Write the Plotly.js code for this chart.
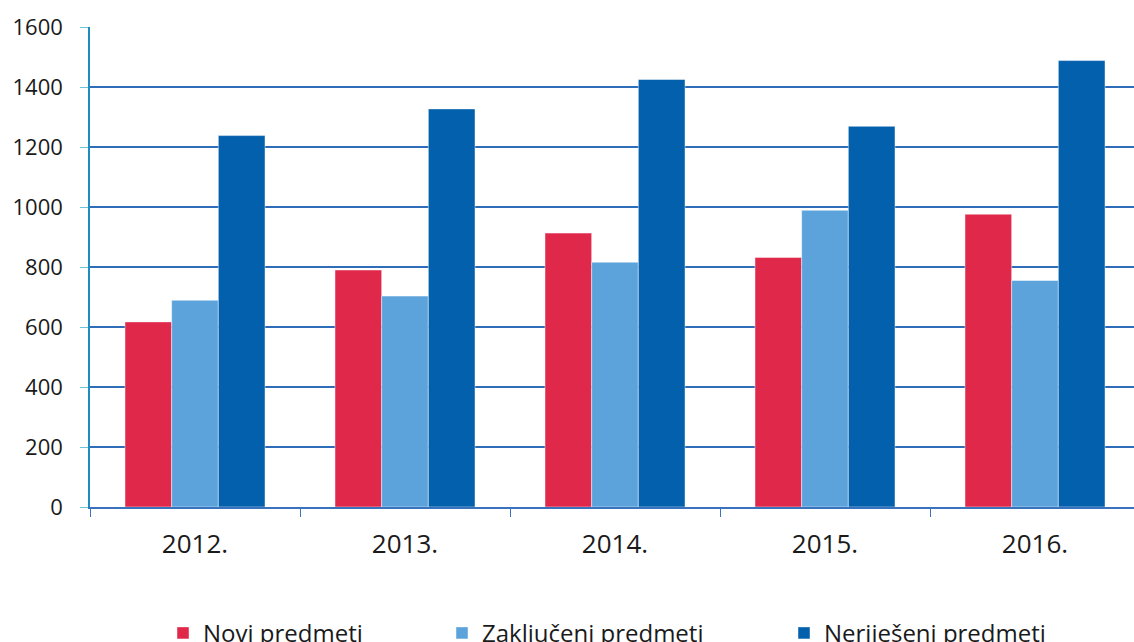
<!DOCTYPE html>
<html>
<head>
<meta charset="utf-8">
<script src="https://cdn.plot.ly/plotly-3.0.1.min.js"></script>
<style>
html,body{margin:0;padding:0;background:#fff;}
#chart{width:1134px;height:642px;}
</style>
</head>
<body>
<div id="chart"></div>
<script>
const categories = ["2012.", "2013.", "2014.", "2015.", "2016."];
const seriesNames = ["Novi predmeti", "Zaključeni predmeti", "Neriješeni predmeti"];
const noviPredmeti = [617, 790, 913, 832, 976];
const zakljuceniPredmeti = [689, 703, 816, 989, 755];
const nerijeseniPredmeti = [1238, 1327, 1425, 1269, 1488];
const yTickVals = [0, 200, 400, 600, 800, 1000, 1200, 1400, 1600];

const colors = ["#E0284B", "#5DA3DB", "#0360AC"];
const values = [noviPredmeti, zakljuceniPredmeti, nerijeseniPredmeti];
const legendIds = ["legend", "legend2", "legend3"];

const traces = values.map((v, i) => ({
  type: "bar",
  name: seriesNames[i],
  x: categories,
  y: v,
  legend: legendIds[i],
  marker: { color: colors[i], line: { color: "rgba(255,255,255,0.45)", width: 1 } },
  hoverinfo: "x+y+name"
}));

const font = { family: "'Open Sans', 'Noto Sans', sans-serif", color: "#1a1a1a" };
const legendText = [205, 484, 826];
function mkLegend(i) {
  return {
    xref: "container", yref: "paper",
    x: (legendText[i] - 42) / 1134, xanchor: "left",
    y: -0.31, yanchor: "bottom",
    orientation: "h",
    bgcolor: "rgba(0,0,0,0)",
    font: Object.assign({}, font, { size: 24 })
  };
}

const layout = {
  width: 1134, height: 642,
  paper_bgcolor: "#fff", plot_bgcolor: "#fff",
  margin: { l: 90, r: 0, t: 27, b: 135, pad: 0, autoexpand: false },
  barmode: "group",
  bargap: 1/3,
  bargroupgap: 0,
  font: font,
  showlegend: true,
  legend: mkLegend(0),
  legend2: mkLegend(1),
  legend3: mkLegend(2),
  xaxis: {
    type: "category",
    range: [-0.5, 4.4714],
    tickson: "boundaries",
    ticks: "outside",
    ticklen: 8,
    tickcolor: "#3A73BD",
    tickwidth: 1,
    showgrid: false,
    showline: true,
    linecolor: "#3A73BD",
    linewidth: 1.5,
    zeroline: false,
    tickfont: Object.assign({}, font, { size: 26 }),
    ticklabelstandoff: 13,
    fixedrange: true
  },
  yaxis: {
    range: [0, 1600],
    tickmode: "array",
    tickvals: yTickVals,
    ticktext: yTickVals.map(String),
    ticks: "outside",
    ticklen: 8,
    tickcolor: "#6EC3D6",
    showgrid: true,
    gridcolor: "#2F6DB8",
    gridwidth: 1.5,
    showline: true,
    linecolor: "#1C8DBE",
    linewidth: 1.5,
    zeroline: false,
    tickfont: Object.assign({}, font, { size: 22 }),
    ticklabelstandoff: 13,
    fixedrange: true
  }
};

Plotly.newPlot("chart", traces, layout, { displayModeBar: false });
</script>
</body>
</html>
